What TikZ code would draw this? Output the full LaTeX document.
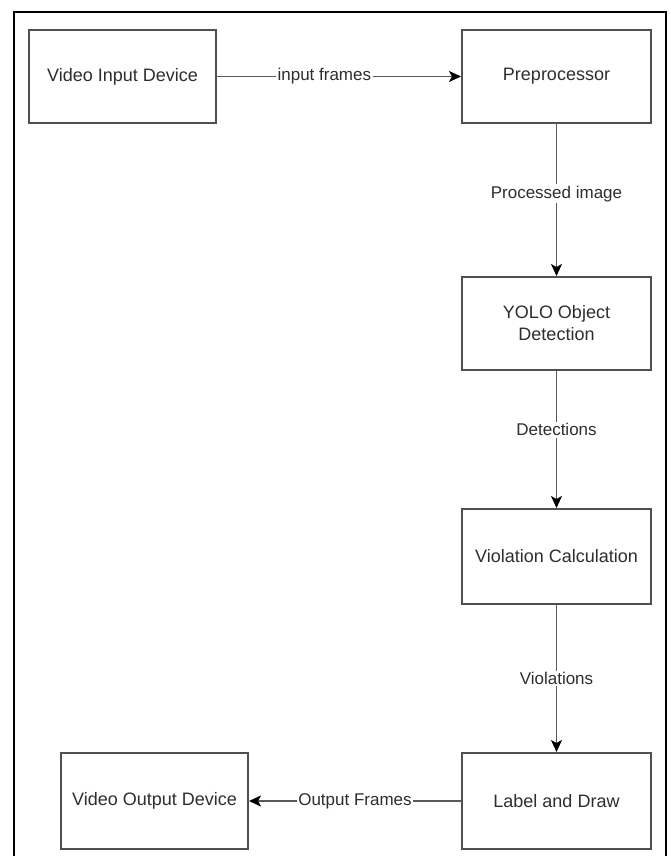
\documentclass[tikz,border=0pt]{standalone}
\usepackage{fontspec}
\setmainfont{Liberation Sans}
\usetikzlibrary{arrows.meta}
\definecolor{boxline}{HTML}{505050}
\definecolor{conline}{HTML}{5A5A5A}
\definecolor{txt}{HTML}{2E2E2E}
\tikzset{
  blockbox/.style={draw=boxline, line width=2pt, rectangle, fill=white,
    minimum height=93pt, text=txt, font=\fontsize{18}{22}\selectfont,
    align=center, inner sep=2pt},
  conn/.style={draw=conline, line width=1.8pt,
    -{Stealth[length=12pt,width=11pt,inset=3pt,color=black]}},
  conntxt/.style={fill=white, text=txt, font=\fontsize{17}{20}\selectfont,
    inner sep=1.5pt}
}
\begin{document}
\begin{tikzpicture}[x=1pt,y=-1pt]
\useasboundingbox (0,0) rectangle (670,856);
\fill[white] (0,0) rectangle (670,856);
\draw[black, line width=2.5pt] (14,856) -- (14,12) -- (666,12) -- (666,856);

\node[blockbox, minimum width=187pt] (vin) at (122.5,76.5) {Video Input Device};
\node[blockbox, minimum width=189pt] (pre) at (556.5,76.5) {Preprocessor};
\node[blockbox, minimum width=189pt] (yolo) at (556.5,323.5) {YOLO Object\\Detection};
\node[blockbox, minimum width=189pt, minimum height=95pt] (viol) at (556.5,556.5) {Violation Calculation};
\node[blockbox, minimum width=189pt, minimum height=96pt] (lad) at (556.5,801) {Label and Draw};
\node[blockbox, minimum width=187pt, minimum height=96pt] (vout) at (154.5,801) {Video Output Device};

\draw[conn] (vin) -- node[conntxt, pos=0.44] {input frames} (pre);
\draw[conn] (pre) -- node[conntxt, pos=0.46] {Processed image} (yolo);
\draw[conn] (yolo) -- node[conntxt, pos=0.43] {Detections} (viol);
\draw[conn] (viol) -- node[conntxt, pos=0.5] {Violations} (lad);
\draw[conn] (lad) -- node[conntxt, pos=0.5] {Output Frames} (vout);
\end{tikzpicture}
\end{document}
